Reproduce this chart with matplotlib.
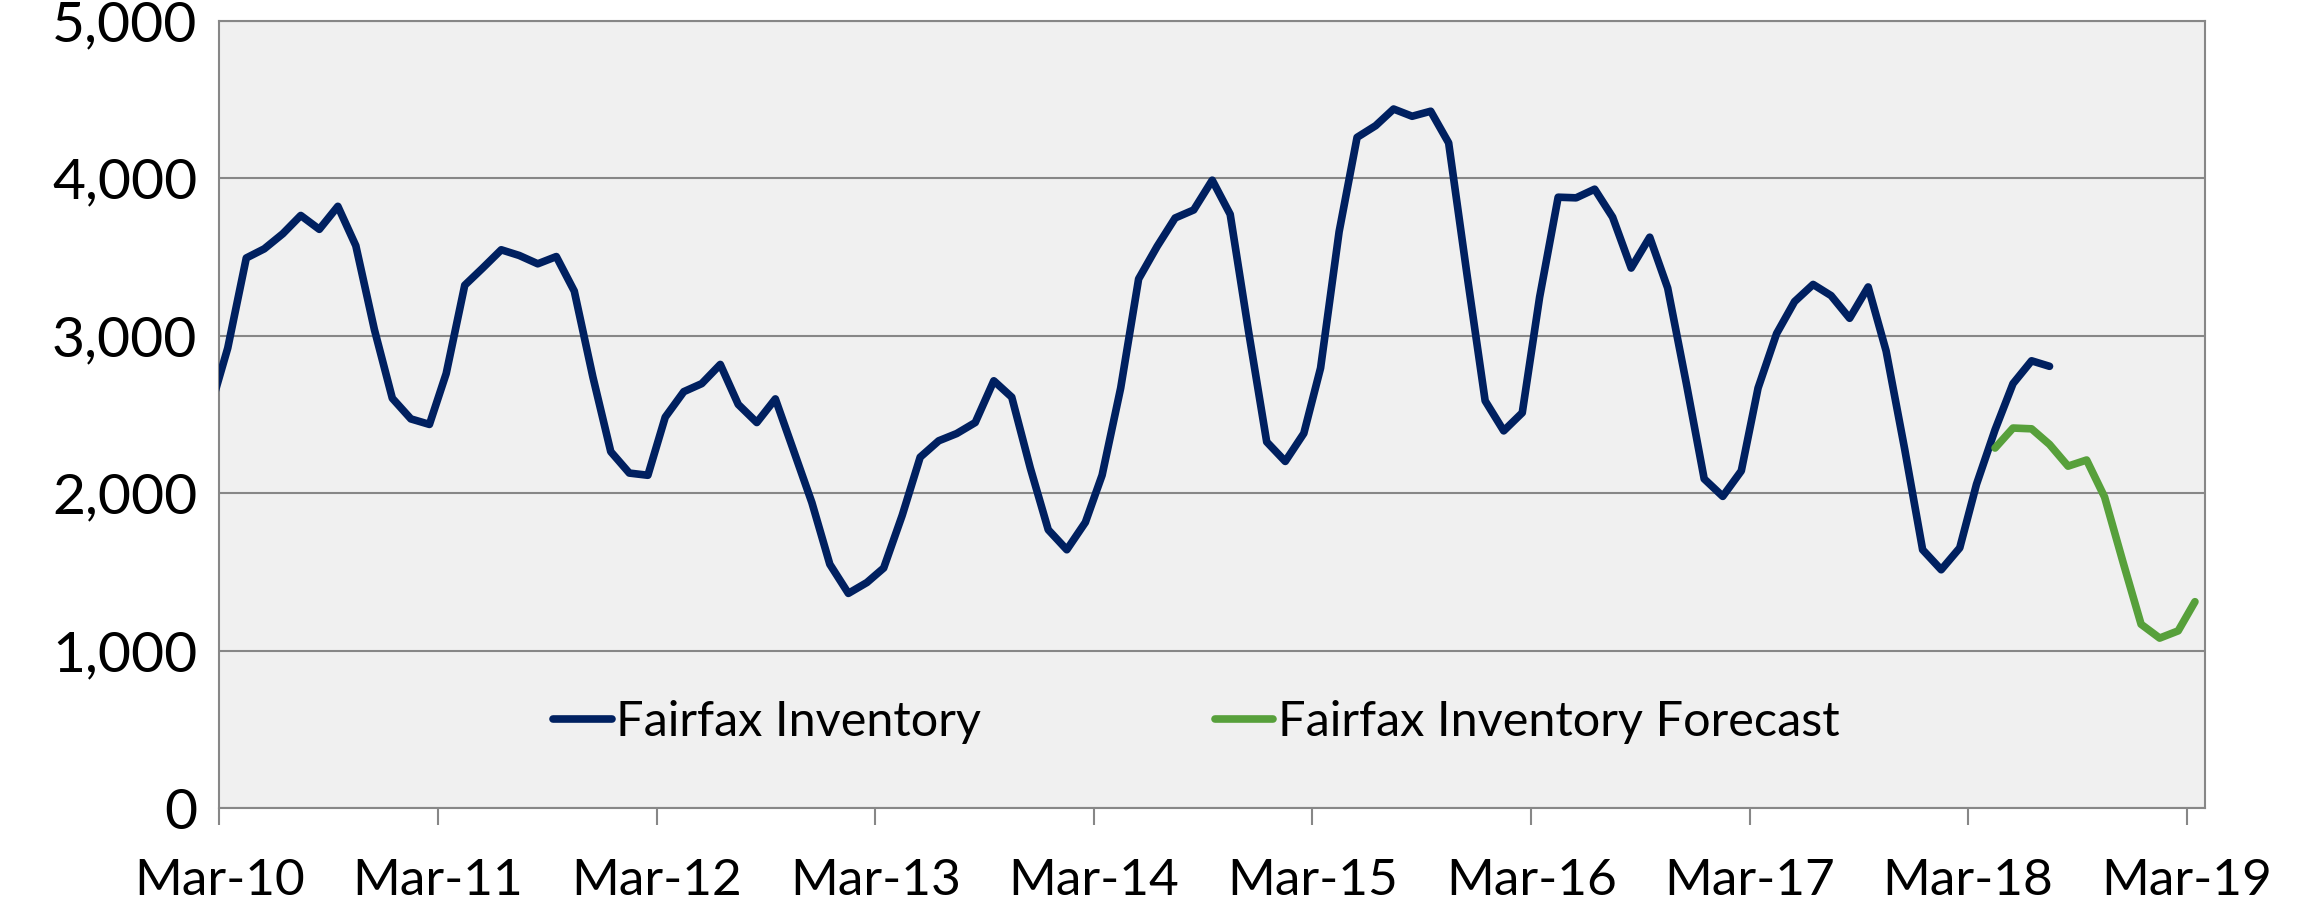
import numpy as np
import pandas as pd
import matplotlib
matplotlib.use("Agg")
import matplotlib.pyplot as plt
import matplotlib.dates as mdates
from matplotlib.ticker import FuncFormatter, MultipleLocator

# 1. DATA (monthly)
# Fairfax inventory, Feb-2010 .. Jul-2018
inventory = [
    2555, 2922, 3494, 3552, 3648, 3764, 3676, 3822, 3572, 3040, 2603,        # 2010
    2472, 2437, 2760, 3321, 3430, 3546, 3510, 3457, 3503, 3284, 2740, 2264,  # 2011
    2128, 2114, 2483, 2645, 2696, 2818, 2564, 2449, 2599, 2276, 1941, 1549,  # 2012
    1364, 1433, 1525, 1860, 2229, 2333, 2379, 2449, 2714, 2610, 2160, 1768,  # 2013
    1641, 1815, 2115, 2668, 3361, 3568, 3748, 3799, 3988, 3771, 3020, 2326,  # 2014
    2202, 2380, 2795, 3661, 4260, 4334, 4440, 4394, 4426, 4225, 3380, 2587,  # 2015
    2396, 2511, 3245, 3880, 3876, 3931, 3753, 3430, 3626, 3303, 2700, 2091,  # 2016
    1980, 2142, 2668, 3014, 3217, 3326, 3255, 3111, 3310, 2903, 2280, 1641,  # 2017
    1514, 1653, 2057, 2403, 2696, 2841, 2806,                                # 2018
]
inventory_start = "2010-02-01"

# Forecast, Apr-2018 .. Mar-2019
forecast = [2287, 2414, 2409, 2310, 2172, 2211, 1976, 1560, 1168, 1080, 1126, 1311]
forecast_start = "2018-04-01"

series_names = ["Fairfax Inventory", "Fairfax Inventory Forecast"]
y_ticks = [0, 1000, 2000, 3000, 4000, 5000]

# points sit mid-month on a date axis
inv_dates = pd.date_range(inventory_start, periods=len(inventory), freq="MS") + pd.Timedelta(days=14)
fc_dates = pd.date_range(forecast_start, periods=len(forecast), freq="MS") + pd.Timedelta(days=14)

# 2. STYLE
plt.rcParams["font.family"] = ["Lato", "DejaVu Sans"]
NAVY = "#002060"
GREEN = "#57A03B"
GRID = "#878787"
LW = 5.5

fig = plt.figure(figsize=(22.97, 9.06), dpi=100)
ax = fig.add_axes([0.0955, 0.108, 0.8645, 0.869])
ax.set_facecolor("#F0F0F0")

ax.plot(inv_dates, inventory, color=NAVY, lw=LW, solid_joinstyle="round",
        solid_capstyle="round", label=series_names[0], zorder=3)
ax.plot(fc_dates, forecast, color=GREEN, lw=LW, solid_joinstyle="round",
        solid_capstyle="round", label=series_names[1], zorder=3)

# 3. AXES
ax.set_xlim(pd.Timestamp("2010-03-01"), pd.Timestamp("2019-04-01"))
ax.set_ylim(0, 5000)
ax.set_yticks(y_ticks)
ax.yaxis.set_major_formatter(FuncFormatter(lambda v, p: f"{int(v):,}"))
ax.xaxis.set_major_locator(mdates.MonthLocator(bymonth=3, bymonthday=1))
ax.xaxis.set_major_formatter(mdates.DateFormatter("%b-%y"))

ax.grid(axis="y", color=GRID, lw=1.5, zorder=1)
ax.set_axisbelow(True)
for s in ax.spines.values():
    s.set_color(GRID)
    s.set_linewidth(1.5)

ax.tick_params(axis="y", length=0, pad=16, labelsize=41)
ax.tick_params(axis="x", length=12, width=1.5, color=GRID, pad=24, labelsize=37)

# 4. LEGEND
leg = ax.legend(loc="center", bbox_to_anchor=(0.492, 0.109), ncol=2, frameon=False,
                fontsize=35, handlelength=1.2, handletextpad=0.1, columnspacing=4.8)
for line in leg.get_lines():
    line.set_linewidth(LW)

fig.savefig("out.png", dpi=100, facecolor="white")
